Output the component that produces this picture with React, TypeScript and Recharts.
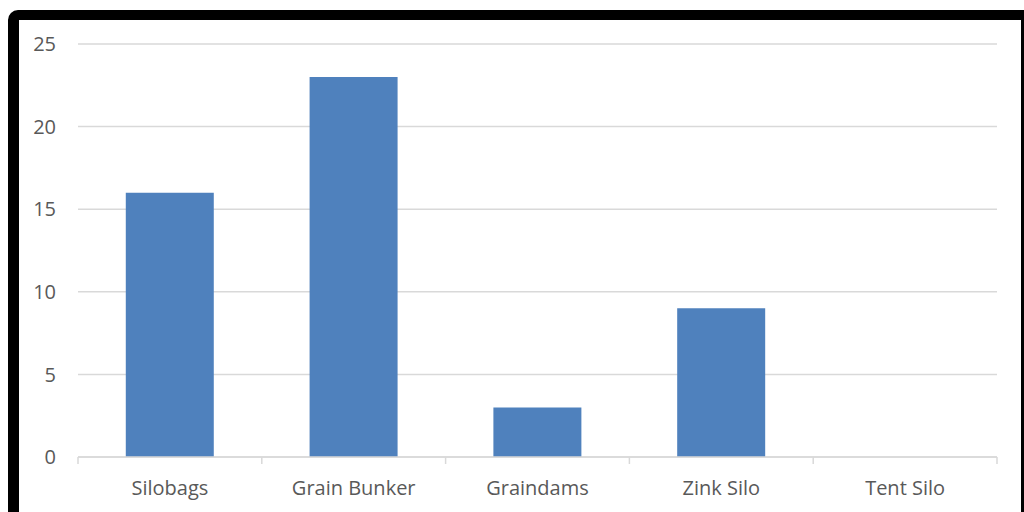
import React from 'react';
import { BarChart, Bar, XAxis, YAxis, CartesianGrid } from 'recharts';

const STORAGE_TYPES = ['Silobags', 'Grain Bunker', 'Graindams', 'Zink Silo', 'Tent Silo'];
const COUNTS = [16, 23, 3, 9, 0];
const Y_TICKS = [0, 5, 10, 15, 20, 25];

const data = STORAGE_TYPES.map((name, i) => ({ name, count: COUNTS[i] }));

const FONT = '"Open Sans", sans-serif';
const TEXT = '#595959';
const GRID = '#d9d9d9';
const TICK_SIZE = 7;
const TICK_MARGIN = 17;

// category label plus the small marks on the band edges (Excel style)
function CategoryTick(props: any) {
  const { x, y, payload, index, visibleTicksCount } = props;
  const half = payload?.offset ?? 0;
  const axisY = y - TICK_SIZE - TICK_MARGIN;
  const isLast = index === visibleTicksCount - 1;
  return (
    <g>
      <line x1={x - half} x2={x - half} y1={axisY} y2={axisY + TICK_SIZE} stroke={GRID} strokeWidth={1.5} />
      {isLast && (
        <line x1={x + half} x2={x + half} y1={axisY} y2={axisY + TICK_SIZE} stroke={GRID} strokeWidth={1.5} />
      )}
      <text x={x} y={y} dy="0.71em" textAnchor="middle" fill={TEXT} fontSize={20} fontFamily={FONT}>
        {payload.value}
      </text>
    </g>
  );
}

export default function App() {
  return (
    <div
      style={{
        position: 'fixed',
        left: 0,
        top: 0,
        width: 1024,
        height: 512,
        overflow: 'hidden',
        background: '#fff',
      }}
    >
      {/* thick black frame, runs past the bottom edge */}
      <div
        style={{
          position: 'absolute',
          left: 8,
          top: 10,
          width: 1024,
          height: 530,
          boxSizing: 'border-box',
          borderStyle: 'solid',
          borderColor: '#000',
          borderWidth: '10px 11px 11px 11px',
          borderTopLeftRadius: 10,
        }}
      />
      <div style={{ position: 'absolute', left: 0, top: 0 }}>
        <BarChart
          width={1024}
          height={512}
          data={data}
          margin={{ top: 44, right: 27, bottom: 0, left: 18 }}
          barCategoryGap="26%"
        >
          <CartesianGrid vertical={false} stroke={GRID} strokeWidth={1.5} />
          <XAxis
            dataKey="name"
            height={55}
            stroke={GRID}
            strokeWidth={1.5}
            tickLine={false}
            tickSize={TICK_SIZE}
            tickMargin={TICK_MARGIN}
            tick={<CategoryTick />}
            interval={0}
          />
          <YAxis
            domain={[0, 25]}
            ticks={Y_TICKS}
            width={60}
            axisLine={false}
            tickLine={false}
            tickSize={0}
            tickMargin={22}
            tick={{ fill: TEXT, fontSize: 20, fontFamily: FONT }}
          />
          <Bar dataKey="count" fill="#4f81bd" isAnimationActive={false} />
        </BarChart>
      </div>
    </div>
  );
}
